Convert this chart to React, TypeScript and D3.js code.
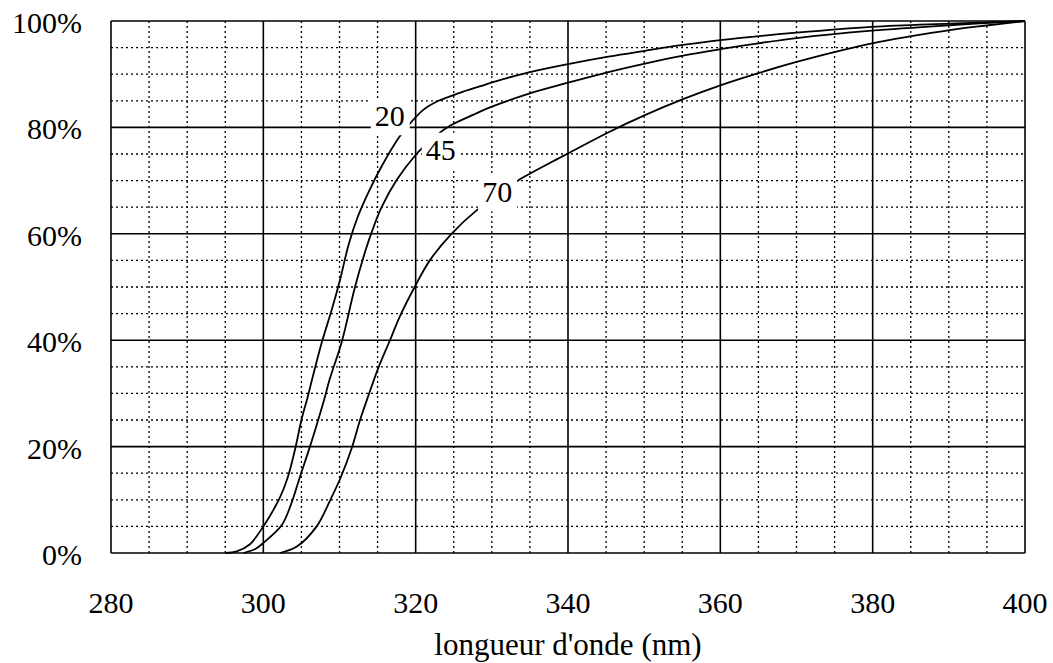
import React from "react";
import * as d3 from "d3";

const WIDTH = 1053;
const HEIGHT = 663;

const xTicks = [280, 300, 320, 340, 360, 380, 400];
const yTicks = [0, 20, 40, 60, 80, 100];
const xMinor = [285, 290, 295, 305, 310, 315, 325, 330, 335, 345, 350, 355, 365, 370, 375, 385, 390, 395];
const yMinor = [5, 10, 15, 25, 30, 35, 45, 50, 55, 65, 70, 75, 85, 90, 95];

// angle 20
const curve20: [number, number][] = [
  [295.0, 0], [296.5, 0.3], [298.2, 1.6], [300.0, 5], [302.2, 10.5], [303.2, 14.2],
  [304.2, 19.7], [305.0, 25], [305.8, 29.2], [306.5, 33.2], [307.7, 39.7], [309.0, 45.8],
  [310.1, 51.5], [311.2, 58.0], [312.4, 63.2], [313.8, 67.8], [315.5, 72.6], [317.8, 78.1],
  [319.3, 80.8], [321.0, 83.3], [323.0, 85.0], [325.8, 86.5], [328.4, 87.7], [330.6, 88.7],
  [335.0, 90.4], [340.0, 91.9], [345.3, 93.3], [350.1, 94.4], [355.1, 95.5], [360.0, 96.4],
  [370.0, 97.8], [379.9, 98.9], [390.0, 99.5], [400.0, 100],
];

// angle 45
const curve45: [number, number][] = [
  [297.4, 0], [299.0, 0.8], [300.0, 1.9], [302.4, 5.2], [303.6, 9.0], [304.8, 14.3],
  [306.1, 19.9], [307.2, 25], [308.0, 28.9], [308.7, 32.6], [310.3, 39.7], [312.0, 49.8],
  [313.4, 56.8], [314.3, 60.6], [315.5, 64.9], [317.5, 70.1], [320.1, 75.0], [321.0, 76.3],
  [322.8, 78.6], [324.5, 80.3], [327.6, 82.4], [330.0, 83.9], [335.0, 86.4], [340.0, 88.4],
  [345.3, 90.4], [350.1, 92.0], [355.1, 93.5], [360.0, 94.7], [365.0, 95.8], [370.0, 96.8],
  [379.9, 98.2], [390.0, 99.2], [400.0, 100],
];

// angle 70
const curve70: [number, number][] = [
  [302.2, 0], [304.4, 1.2], [307.0, 5], [308.8, 10], [310.1, 14.0], [311.6, 19.7],
  [312.7, 25], [313.8, 29.6], [315.1, 34.8], [316.6, 39.9], [317.9, 44.4], [319.9, 50.1],
  [321.9, 55.1], [324.7, 60.0], [328.0, 64.4], [333.3, 69.9], [335.0, 71.3], [337.6, 73.3],
  [340.0, 75.1], [345.2, 79.0], [350.1, 82.3], [355.1, 85.3], [360.0, 87.9], [365.0, 90.2],
  [370.0, 92.3], [375.1, 94.2], [379.9, 95.8], [384.9, 97.1], [390.1, 98.3], [395.2, 99.2],
  [400.0, 100],
];

const seriesNames = ["20", "45", "70"];
const seriesData = [curve20, curve45, curve70];
// label anchor (wavelength, percent) for each series
const labelWl = [316.6, 323.3, 330.7];
const labelPct = [82.1, 75.8, 67.8];

const xTitle = "longueur d'onde (nm)";

const M = { left: 111, right: 28, top: 21, bottom: 110 };
const FONT = "'Liberation Serif', 'Times New Roman', serif";

export default function App() {
  const x = d3.scaleLinear().domain([280, 400]).range([M.left, WIDTH - M.right]);
  const y = d3.scaleLinear().domain([0, 100]).range([HEIGHT - M.bottom, M.top]);
  const line = d3
    .line<[number, number]>()
    .x((d) => x(d[0]))
    .y((d) => y(d[1]))
    .curve(d3.curveCatmullRom.alpha(0.5));

  const x0 = x(280), x1 = x(400), y0 = y(0), y1 = y(100);

  return (
    <svg
      width={WIDTH}
      height={HEIGHT}
      style={{ position: "absolute", left: 0, top: 0, background: "#fff" }}
      fontFamily={FONT}
    >
      <rect x={0} y={0} width={WIDTH} height={HEIGHT} fill="#fff" />
      {/* minor grid */}
      <g stroke="#000" strokeWidth={1.3} strokeDasharray="2,3">
        {xMinor.map((v) => (
          <line key={"xm" + v} x1={x(v)} x2={x(v)} y1={y1} y2={y0} />
        ))}
        {yMinor.map((v) => (
          <line key={"ym" + v} x1={x0} x2={x1} y1={y(v)} y2={y(v)} />
        ))}
      </g>
      {/* major grid */}
      <g stroke="#000" strokeWidth={1.6}>
        {xTicks.map((v) => (
          <line key={"xM" + v} x1={x(v)} x2={x(v)} y1={y1} y2={y0} />
        ))}
        {yTicks.map((v) => (
          <line key={"yM" + v} x1={x0} x2={x1} y1={y(v)} y2={y(v)} />
        ))}
      </g>
      {/* curves */}
      <g fill="none" stroke="#000" strokeWidth={1.8} strokeLinejoin="round">
        {seriesData.map((d, i) => (
          <path key={"c" + i} d={line(d) || ""} />
        ))}
      </g>
      {/* curve labels */}
      {seriesNames.map((n, i) => {
        const cx = x(labelWl[i]);
        const cy = y(labelPct[i]);
        return (
          <g key={"l" + n}>
            <rect x={cx - 19} y={cy - 17} width={39} height={36} fill="#fff" />
            <text x={cx} y={cy + 10} textAnchor="middle" fontSize={30} fill="#000">
              {n}
            </text>
          </g>
        );
      })}
      {/* y tick labels */}
      {yTicks.map((v) => (
        <text key={"yt" + v} x={82} y={y(v) + 12} textAnchor="end" fontSize={30} fill="#000">
          {v + "%"}
        </text>
      ))}
      {/* x tick labels */}
      {xTicks.map((v) => (
        <text key={"xt" + v} x={x(v)} y={613} textAnchor="middle" fontSize={30} fill="#000">
          {v}
        </text>
      ))}
      <text x={(x0 + x1) / 2} y={655} textAnchor="middle" fontSize={31} fill="#000">
        {xTitle}
      </text>
    </svg>
  );
}
